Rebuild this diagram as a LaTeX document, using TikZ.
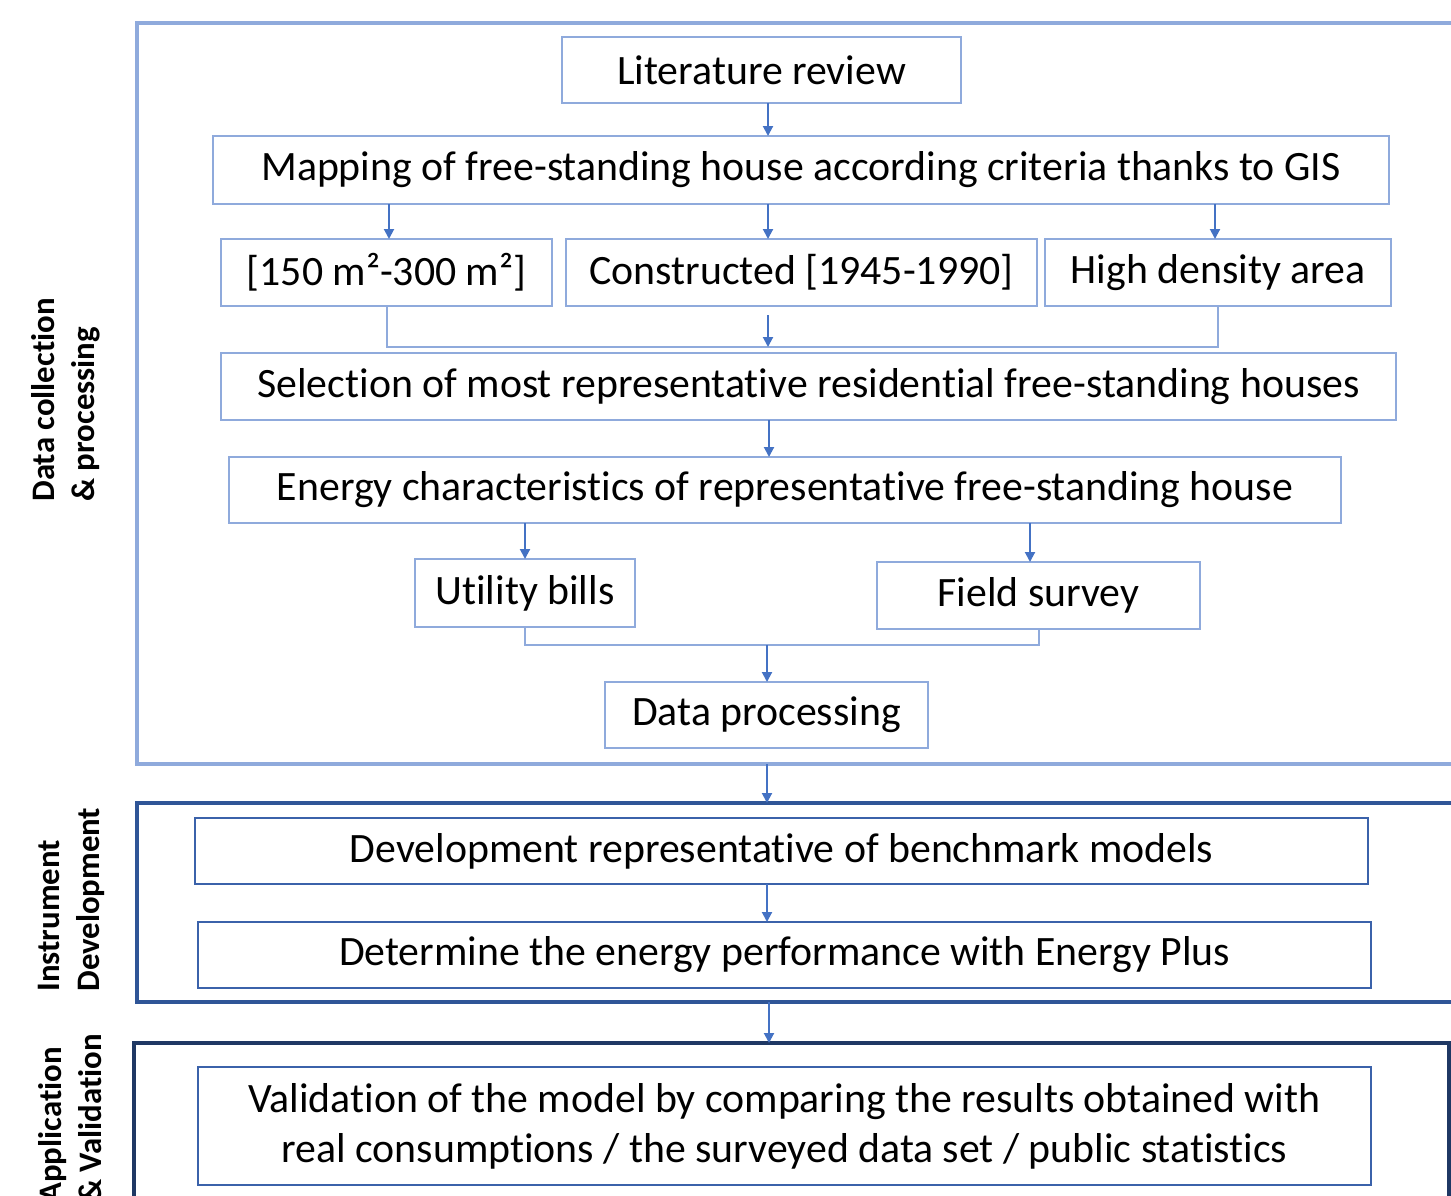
\documentclass[tikz,border=0pt]{standalone}
\usepackage{fontspec}
\setmainfont[Ligatures=NoCommon]{Carlito}
\usetikzlibrary{arrows.meta}
\definecolor{lightb}{HTML}{8FAADC}
\definecolor{arrc}{HTML}{4472C4}
\definecolor{midb}{HTML}{2F5597}
\definecolor{darkb}{HTML}{1F3864}
\definecolor{innb}{HTML}{3B62AA}
\tikzset{
  frameA/.style={draw=lightb, line width=2pt, inner sep=0pt, outer sep=0pt},
  frameB/.style={draw=midb, line width=2pt, inner sep=0pt, outer sep=0pt},
  frameC/.style={draw=darkb, line width=2pt, inner sep=0pt, outer sep=0pt},
  boxA/.style={draw=lightb, line width=0.8pt, inner sep=0pt, outer sep=0pt, align=center, font=\fontsize{20.9}{25}\selectfont},
  boxB/.style={draw=innb, line width=0.8pt, inner sep=0pt, outer sep=0pt, align=center, font=\fontsize{20.9}{25}\selectfont},
  arr/.style={draw=arrc, line width=1pt, -{Triangle[length=5pt,width=5pt]}},
  conn/.style={draw=lightb, line width=1pt},
  side/.style={rotate=90, anchor=west, inner sep=0pt, align=left, font=\bfseries\fontsize{16.4}{20}\selectfont}
}
\begin{document}
\begin{tikzpicture}[x=0.5pt,y=-0.5pt]
\useasboundingbox (0,0) rectangle (1451,1195);
\clip (0,0) rectangle (1451,1195);
% frames
\node[frameA, minimum width=661.5pt, minimum height=370.5pt] (F1) at (798.5,393.5) {};
\node[frameB, minimum width=661.5pt, minimum height=99.5pt] (F2) at (798.5,902.5) {};
\node[frameC, minimum width=657.5pt, minimum height=86pt] (F3) at (791.5,1129) {};
% side labels
\node[side] (L1) at (66,502) {Data collection\\\& processing};
\node[side] (L2) at (71,992) {Instrument\\Development};
\node[side] (L3) at (70,1203) {Application\\\& Validation};
% boxes
\node[boxA, minimum width=199.5pt, minimum height=33pt] (lit) at (761.5,70) {Literature review};
\node[boxA, minimum width=588pt, minimum height=34pt] (map) at (801,170) {Mapping of free-standing house according criteria thanks to GIS};
\node[boxA, minimum width=165.5pt, minimum height=33.5pt] (a150) at (386.5,272.5) {[150 m²-300 m²]};
\node[boxA, minimum width=235.5pt, minimum height=33.5pt] (cons) at (801.5,272.5) {Constructed [1945-1990]};
\node[boxA, minimum width=173pt, minimum height=33.5pt] (high) at (1218,272.5) {High density area};
\node[boxA, minimum width=587.5pt, minimum height=33.5pt] (sel) at (808.5,386.5) {Selection of most representative residential free-standing houses};
\node[boxA, minimum width=556pt, minimum height=33pt] (ene) at (785,490) {Energy characteristics of representative free-standing house};
\node[boxA, minimum width=110pt, minimum height=34pt] (util) at (525,593) {Utility bills};
\node[boxA, minimum width=161.5pt, minimum height=33.5pt] (field) at (1038.5,595.5) {Field survey};
\node[boxA, minimum width=161.5pt, minimum height=33pt] (dp) at (766.5,715) {Data processing};
\node[boxB, minimum width=586.5pt, minimum height=33pt] (dev) at (781.5,851) {Development representative of benchmark models};
\node[boxB, minimum width=586.5pt, minimum height=33pt] (det) at (784.5,955) {Determine the energy performance with Energy Plus};
\node[boxB, minimum width=586.5pt, minimum height=59pt] (val) at (784.5,1126) {Validation of the model by comparing the results obtained with\\real consumptions / the surveyed data set / public statistics};
% helper coordinates
\coordinate (x768) at (768,0);
\coordinate (x389) at (389,0);
\coordinate (x1215) at (1215,0);
\coordinate (x769) at (769,0);
\coordinate (x1030) at (1030,0);
\coordinate (x767) at (767,0);
\coordinate (mrg) at (768,347);
\coordinate (mrgtop) at (768,315);
\coordinate (mrg2) at (767,645);
% connectors
\draw[arr] (lit.south -| x768) -- (map.north -| x768);
\draw[arr] (map.south -| x389) -- (a150.north -| x389);
\draw[arr] (map.south -| x768) -- (cons.north -| x768);
\draw[arr] (map.south -| x1215) -- (high.north -| x1215);
\draw[conn] (a150.south) |- (mrg) -| (high.south);
\draw[arr] (mrgtop) -- (mrg);
\draw[arr] (sel.south -| x769) -- (ene.north -| x769);
\draw[arr] (ene.south -| util.north) -- (util.north);
\draw[arr] (ene.south -| x1030) -- (field.north -| x1030);
\draw[conn] (util.south) |- (mrg2) -| (field.south);
\draw[arr] (mrg2) -- (dp.north -| mrg2);
\draw[arr] (F1.south -| x767) -- (F2.north -| x767);
\draw[arr] (dev.south -| x767) -- (det.north -| x767);
\draw[arr] (F2.south -| x769) -- (F3.north -| x769);
\end{tikzpicture}
\end{document}
